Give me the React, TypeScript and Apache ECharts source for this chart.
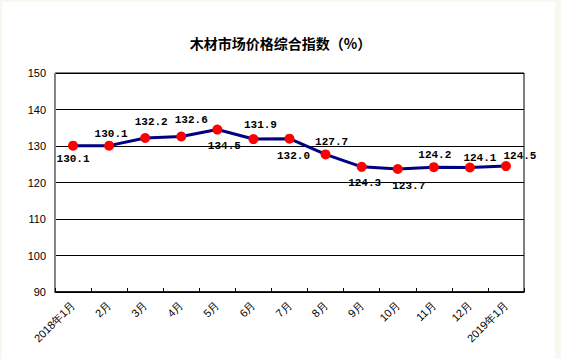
import React, { useEffect, useRef } from "react";
import * as echarts from "echarts";

const categories = ["2018年1月", "2月", "3月", "4月", "5月", "6月", "7月", "8月", "9月", "10月", "11月", "12月", "2019年1月"];
const values = [130.1, 130.1, 132.2, 132.6, 134.5, 131.9, 132.0, 127.7, 124.3, 123.7, 124.2, 124.1, 124.5];
const labelOffsets: [number, number][] = [
  [0, 13], [2, -12], [6, -16], [10, -17], [7, 16], [7, -14], [4, 17],
  [6, -12], [3, 16], [11, 17], [1, -12], [10, -10], [14, -10],
];
const yMin = 90;
const yMax = 150;
const yStep = 10;
const title = "木材市场价格综合指数（%）";

export default function App() {
  const ref = useRef<HTMLDivElement>(null);
  useEffect(() => {
    document.body.style.margin = "0";
    const chart = echarts.init(ref.current!, undefined, { renderer: "svg" });
    const sym = 10;
    chart.setOption({
      animation: false,
      backgroundColor: "#f8f8ee",
      graphic: [
        { type: "rect", shape: { x: 2, y: 2, width: 553, height: 357 }, style: { fill: "#ffffff" }, z: -10 },
      ],
      title: {
        text: title,
        left: "center",
        top: 31,
        textStyle: { fontSize: 14, fontWeight: "bold", color: "#000", fontFamily: "Noto Sans CJK SC" },
      },
      grid: {
        left: 55,
        right: 37,
        top: 73,
        bottom: 67,
        show: true,
        borderColor: "#000",
        borderWidth: 1,
        backgroundColor: "transparent",
      },
      xAxis: {
        type: "category",
        data: categories,
        boundaryGap: true,
        axisLine: { lineStyle: { color: "#000", width: 1.5 } },
        axisTick: { show: true, inside: true, length: 4, lineStyle: { color: "#000" } },
        axisLabel: {
          rotate: 45,
          fontSize: 11,
          color: "#000",
          margin: 11,
          interval: 0,
          fontFamily: "Liberation Sans",
        },
      },
      yAxis: {
        type: "value",
        min: yMin,
        max: yMax,
        interval: yStep,
        axisLine: { show: true, lineStyle: { color: "#888" } },
        axisTick: { show: false },
        splitLine: { lineStyle: { color: "#000", width: 1 } },
        axisLabel: { fontSize: 11, color: "#000", margin: 9, fontFamily: "Liberation Sans" },
      },
      series: [
        {
          type: "line",
          data: values.map((v, i) => ({
            value: v,
            label: {
              show: true,
              position: [sym / 2 + labelOffsets[i][0], sym / 2 + labelOffsets[i][1]],
              align: "center",
              verticalAlign: "middle",
            },
          })),
          symbol: "circle",
          symbolSize: sym,
          lineStyle: { color: "#000080", width: 3 },
          itemStyle: { color: "#ff0000", borderWidth: 0 },
          label: {
            show: true,
            fontSize: 11,
            fontWeight: "bold",
            color: "#000",
            fontFamily: "Liberation Mono",
            formatter: (p: any) => Number(p.value).toFixed(1),
          },
        },
      ],
    });
    return () => chart.dispose();
  }, []);
  return <div ref={ref} style={{ width: 561, height: 359, position: "absolute", left: 0, top: 0 }} />;
}
